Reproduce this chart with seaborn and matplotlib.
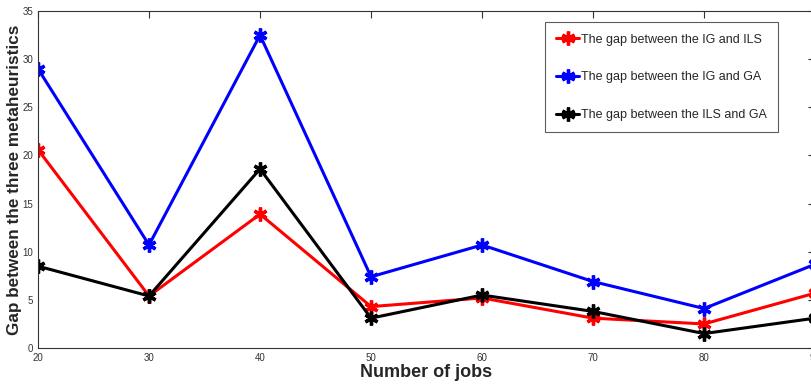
import matplotlib
matplotlib.use("Agg")
import matplotlib.pyplot as plt
import seaborn as sns

# data
jobs = [20, 30, 40, 50, 60, 70, 80, 90]
gap_ig_ils = [20.6, 5.4, 13.9, 4.3, 5.2, 3.1, 2.5, 5.7]
gap_ig_ga = [29.0, 10.7, 32.5, 7.4, 10.7, 6.9, 4.1, 8.7]
gap_ils_ga = [8.5, 5.4, 18.6, 3.1, 5.5, 3.8, 1.5, 3.1]
labels = ["The gap between the IG and ILS",
          "The gap between the IG and GA",
          "The gap between the ILS and GA"]
colors = ["#ff0000", "#0000ff", "#000000"]

sns.set_style("white")
plt.rcParams["font.family"] = ["Liberation Sans Narrow", "Liberation Sans", "DejaVu Sans"]

fig = plt.figure(figsize=(8.12, 3.90), dpi=100)
ax = fig.add_axes([0.0468, 0.1077, 0.957, 0.864])

for vals, lab, col in zip([gap_ig_ils, gap_ig_ga, gap_ils_ga], labels, colors):
    sns.lineplot(x=jobs, y=vals, ax=ax, color=col, label=lab, linewidth=2.2,
                 marker=(6, 2, 0), markersize=10, markeredgewidth=2.4,
                 markeredgecolor=col)

ax.set_xlim(20, 90)
ax.set_ylim(0, 35)
ax.set_xticks(jobs)
ax.set_yticks(range(0, 36, 5))
ax.tick_params(direction="in", length=5, width=0.8, labelsize=7,
               top=True, right=True, colors="#333333", labelcolor="#333333")
for s in ax.spines.values():
    s.set_color("#333333")
    s.set_linewidth(0.8)

ax.set_xlabel("Number of jobs", fontsize=13, fontweight="bold", color="#262626", labelpad=1)
ax.set_ylabel("Gap between the three metaheuristics", fontsize=12.3, fontweight="bold",
              family=["Liberation Sans", "DejaVu Sans"], color="#262626", labelpad=0)

leg = ax.legend(loc="upper right", bbox_to_anchor=(0.952, 0.966), fontsize=9.0,
                frameon=True, fancybox=False, edgecolor="#333333",
                handlelength=1.8, borderpad=0.9, labelspacing=2.05, handletextpad=0.15,
                borderaxespad=0)
leg.get_frame().set_linewidth(0.8)

fig.savefig("out.png", dpi=100)
